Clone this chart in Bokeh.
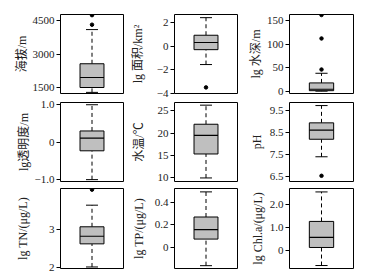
from bokeh.plotting import figure
from bokeh.layouts import column, row
from bokeh.models import FixedTicker, Range1d
from bokeh.embed import file_html
from bokeh.resources import INLINE

labels = ["海拔/m", "lg 面积/km²", "lg 水深/m",
          "lg透明度/m", "水温/℃", "pH",
          "lg TN/(μg/L)", "lg TP/(μg/L)", "lg Chl.a/(μg/L)"]
lower = [1270, -1.55, 0, -1.0, 9.9, 7.4, 2.01, -0.165, -0.67]
q1 = [1490, -0.28, 1, -0.23, 15.3, 8.2, 2.62, 0.071, 0.12]
median = [1940, 0.33, 4, 0.11, 19.5, 8.62, 2.82, 0.155, 0.56]
q3 = [2560, 0.95, 17.5, 0.30, 22.0, 8.95, 3.07, 0.267, 1.26]
upper = [4100, 2.45, 38, 1.0, 26.3, 9.74, 3.64, 0.49, 2.55]
outliers = [[4320, 4750], [-3.5], [46, 112, 162], [], [], [6.53], [4.05], [], []]
ticks = [[1500, 3000, 4500], [-4, -2, 0, 2], [0, 50, 100, 150], [-1, 0, 1],
         [10, 15, 20, 25], [6.5, 7.5, 8.5, 9.5], [2, 3], [0, 0.2, 0.4], [0, 1, 2]]
tick_labels = [["1500", "3000", "4500"], ["−4", "−2", "0", "2"], ["0", "50", "100", "150"],
               ["−1.0", "0", "1.0"], ["10", "15", "20", "25"], ["6.5", "7.5", "8.5", "9.5"],
               ["2", "3"], ["0", "0.2", "0.4"], ["0", "1.0", "2.0"]]
y_ranges = [(1220, 4780), (-4.02, 2.72), (-5, 163), (-1.05, 1.06), (9.1, 26.9),
            (6.27, 9.88), (1.97, 4.08), (-0.19, 0.52), (-0.8, 2.7)]

FONT = "Liberation Serif, Noto Sans CJK SC"
col_w = [(126, 60, 3), (115, 48, 4), (129, 48, 17)]
row_h = [(99, 14, 6), (86, 3, 4), (92, 3, 9)]
standoffs = [1, 9, 1, 1, 9, 3, 16, 6, 2]

rows = []
for r in range(3):
    figs = []
    for c in range(3):
        i = r * 3 + c
        w, bl, br = col_w[c]
        h, bt, bb = row_h[r]
        p = figure(width=w, height=h, output_backend="svg", toolbar_location=None,
                   x_range=Range1d(-1, 1), y_range=Range1d(*y_ranges[i]),
                   min_border_left=bl, min_border_right=br,
                   min_border_top=bt, min_border_bottom=bb)
        p.xaxis.visible = False
        p.grid.visible = False
        p.outline_line_color = "black"
        p.outline_line_width = 1
        p.background_fill_color = "white"
        p.border_fill_color = "white"
        ax = p.yaxis[0]
        ax.ticker = FixedTicker(ticks=ticks[i])
        ax.major_label_overrides = {t: l for t, l in zip(ticks[i], tick_labels[i])}
        ax.minor_tick_line_color = None
        ax.major_tick_out = 4
        ax.major_tick_in = 0
        ax.major_label_standoff = 2
        ax.axis_line_color = None
        ax.major_label_text_font = FONT
        ax.major_label_text_font_size = "11px"
        ax.major_label_text_color = "#222222"
        ax.axis_label = labels[i]
        ax.axis_label_text_font = FONT
        ax.axis_label_text_font_size = "12px"
        ax.axis_label_text_font_style = "normal"
        ax.axis_label_text_color = "#222222"
        ax.axis_label_standoff = standoffs[i]

        # whiskers
        p.segment(x0=[0, 0], y0=[q3[i], lower[i]], x1=[0, 0], y1=[upper[i], q1[i]],
                  line_color="black", line_width=1, line_dash="4 3")
        # caps
        p.segment(x0=[-0.19, -0.19], y0=[upper[i], lower[i]], x1=[0.19, 0.19],
                  y1=[upper[i], lower[i]], line_color="black", line_width=1)
        # box
        p.vbar(x=[0], width=0.76, bottom=[q1[i]], top=[q3[i]],
               fill_color="#bfbfbf", line_color="black", line_width=1)
        # median
        p.segment(x0=[-0.38], y0=[median[i]], x1=[0.38], y1=[median[i]],
                  line_color="black", line_width=1.2)
        if outliers[i]:
            p.scatter(x=[0] * len(outliers[i]), y=outliers[i], size=3.5,
                      fill_color="black", line_color="black")
        figs.append(p)
    rows.append(row(*figs, spacing=0))

layout = column(*rows, spacing=0)
open("out.html", "w").write(file_html(layout, INLINE))
